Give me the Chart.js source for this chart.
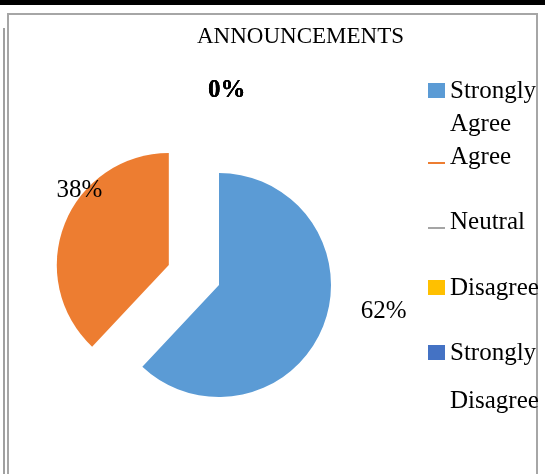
<!DOCTYPE html>
<html>
<head>
<meta charset="utf-8">
<script src="https://cdn.jsdelivr.net/npm/chart.js@4.4.0/dist/chart.umd.min.js"></script>
<style>
  body { margin: 0; background: #fff; }
  #page { position: relative; width: 545px; height: 474px; overflow: hidden; font-family: "Liberation Serif", "Times New Roman", serif; color: #000; }
  #topbar { position: absolute; left: 0; top: 0; width: 545px; height: 5px; background: #000; }
  #edge { position: absolute; left: 3px; top: 28px; width: 2px; height: 446px; background: #a0a0a0; }
  #frame { position: absolute; left: 7px; top: 13px; width: 531px; height: 480px; border: 2px solid #a6a6a6; box-sizing: border-box; }
  #title { position: absolute; left: 150px; width: 301px; top: 21px; line-height: 30px; font-size: 23px; text-align: center; }
  #wrap { position: absolute; left: 0; top: 0; width: 545px; height: 474px; }
  #legend { position: absolute; left: 428px; top: 73px; width: 117px; font-size: 25px; line-height: 33px; }
  .item { position: relative; height: 65.5px; }
  .item .txt { position: absolute; left: 22px; top: 0; width: 95px; }
  .item .mk { position: absolute; left: 0; width: 17px; }
  .mk.box { top: 10px; height: 15px; }
  .mk.line { top: 23px; height: 2px; }
</style>
</head>
<body>
<div id="page">
  <div id="topbar"></div>
  <div id="edge"></div>
  <div id="frame"></div>
  <div id="wrap"><canvas id="pie"></canvas></div>
  <div id="title">ANNOUNCEMENTS</div>
  <div id="legend"></div>
</div>
<script>
const categories = ['Strongly Agree', 'Agree', 'Neutral', 'Disagree', 'Strongly Disagree'];
const percentages = [62, 38, 0, 0, 0];
const colors = ['#5B9BD5', '#ED7D31', '#A5A5A5', '#FFC000', '#4472C4'];

// legend marker look and line spacing, label placement, slice pull-out
const markers = ['box', 'line', 'line', 'box', 'box'];
const legendLineHeight = [33, 33, 33, 33, 48];
const explode = [0, 54, 0, 0, 0];
const labelTurn = [-12.4, 18.2, 2.3, 2.3, 2.3];
const labelDist = [1.49, 1.04, 1.74, 1.74, 1.74];

const explodePlugin = {
  id: 'explode',
  afterDatasetsUpdate(chart) {
    chart.getDatasetMeta(0).data.forEach((arc, i) => {
      const mid = (arc.startAngle + arc.endAngle) / 2;
      arc.x += Math.cos(mid) * explode[i];
      arc.y += Math.sin(mid) * explode[i];
    });
  }
};

const labelPlugin = {
  id: 'pctLabels',
  afterDatasetsDraw(chart) {
    const ctx = chart.ctx;
    ctx.save();
    ctx.fillStyle = '#000';
    ctx.textAlign = 'center';
    ctx.textBaseline = 'middle';
    chart.getDatasetMeta(0).data.forEach((arc, i) => {
      const a = (arc.startAngle + arc.endAngle) / 2 + labelTurn[i] * Math.PI / 180;
      const d = arc.outerRadius * labelDist[i];
      ctx.font = (percentages[i] === 0 ? 'bold ' : '') + '25px "Liberation Serif"';
      ctx.fillText(percentages[i] + '%', arc.x + Math.cos(a) * d, arc.y + Math.sin(a) * d);
    });
    ctx.restore();
  }
};

new Chart(document.getElementById('pie'), {
  type: 'pie',
  data: {
    labels: categories,
    datasets: [{
      data: percentages,
      backgroundColor: colors,
      borderWidth: 0,
      radius: 112
    }]
  },
  options: {
    responsive: true,
    maintainAspectRatio: false,
    animation: false,
    events: [],
    layout: { padding: { left: 0, right: 107, top: 96, bottom: 0 } },
    plugins: {
      legend: { display: false },
      tooltip: { enabled: false }
    }
  },
  plugins: [explodePlugin, labelPlugin]
});

const legend = document.getElementById('legend');
categories.forEach((name, i) => {
  const item = document.createElement('div');
  item.className = 'item';
  const mk = document.createElement('div');
  mk.className = 'mk ' + markers[i];
  mk.style.background = colors[i];
  const txt = document.createElement('div');
  txt.className = 'txt';
  txt.style.lineHeight = legendLineHeight[i] + 'px';
  txt.style.top = (33 - legendLineHeight[i]) / 2 + 'px';
  txt.textContent = name;
  item.appendChild(mk);
  item.appendChild(txt);
  legend.appendChild(item);
});
</script>
</body>
</html>
